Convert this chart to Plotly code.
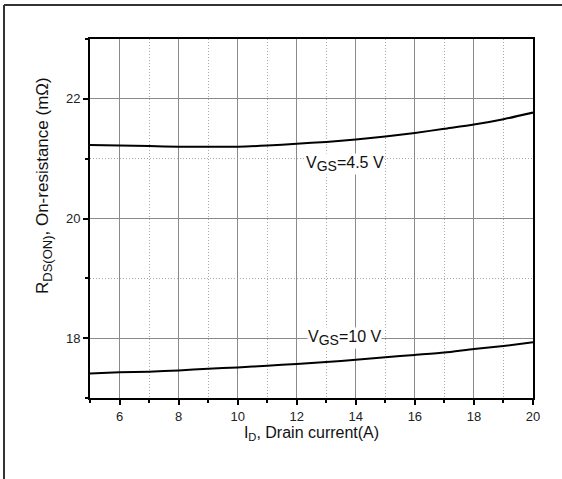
import plotly.graph_objects as go

# Data
id_current = [5, 6, 7, 8, 9, 10, 11, 12, 13, 14, 15, 16, 17, 18, 19, 20]
r_vgs45 = [21.23, 21.22, 21.21, 21.20, 21.20, 21.20, 21.22, 21.25, 21.28, 21.32,
           21.37, 21.43, 21.50, 21.57, 21.66, 21.77]
r_vgs10 = [17.41, 17.43, 17.44, 17.46, 17.49, 17.51, 17.54, 17.57, 17.60, 17.64,
           17.68, 17.72, 17.76, 17.82, 17.87, 17.93]
label_45 = "V<sub><span style='font-size:14px'>GS</span></sub>=4.5 V"
label_10 = "V<sub><span style='font-size:14px'>GS</span></sub>=10 V"
x_title = "I<sub>D</sub>, Drain current(A)"
y_title = "R<sub><span style='font-size:13px'>DS(ON)</span></sub>, On-resistance (mΩ)"

W, H = 562, 479
L, R, T, B = 90, 29, 39, 81

FONT = "Liberation Sans, Arial, sans-serif"

fig = go.Figure()
for ys in (r_vgs45, r_vgs10):
    fig.add_trace(go.Scatter(x=id_current, y=ys, mode="lines",
                             line=dict(color="black", width=2, shape="spline", smoothing=0.6),
                             showlegend=False, hoverinfo="skip"))

axis_common = dict(
    showline=True, linecolor="black", linewidth=2, mirror=True,
    ticks="outside", ticklen=5, tickwidth=1.5, tickcolor="black",
    showgrid=True, gridcolor="#8a8a8a", gridwidth=1,
    zeroline=False,
    tickfont=dict(family=FONT, size=13, color="#222"),
)
minor_common = dict(dtick=1, tick0=1, ticks="outside", ticklen=3, tickcolor="black",
                    showgrid=True, gridcolor="#a8a8a8", griddash="1px,2px", gridwidth=1)

fig.update_xaxes(range=[5, 20], tick0=0, dtick=2, minor=minor_common,
                 title=dict(text=x_title, font=dict(family=FONT, size=16, color="#111"), standoff=4),
                 **axis_common)
fig.update_yaxes(range=[17, 23], tick0=0, dtick=2, minor=minor_common, **axis_common)

pw, ph = W - L - R, H - T - B
def px(xp):
    return (xp - L) / pw
def py(yp):
    return (H - B - yp) / ph

# y-axis title placed as rotated annotation
fig.add_annotation(xref="paper", yref="paper", x=px(44), y=py(186), text=y_title,
                   textangle=-90, showarrow=False, xanchor="center", yanchor="middle",
                   font=dict(family=FONT, size=17, color="#111"))

fig.add_annotation(x=12.28, y=20.91, text=label_45, showarrow=False, xanchor="left", yanchor="middle",
                   font=dict(family=FONT, size=16, color="#111"), bgcolor="white", borderpad=0)
fig.add_annotation(x=12.34, y=18.0, text=label_10, showarrow=False, xanchor="left", yanchor="middle",
                   font=dict(family=FONT, size=16, color="#111"), bgcolor="white", borderpad=0)

# page frame: top and left border lines
fig.add_shape(type="line", xref="paper", yref="paper", x0=px(4), x1=px(562), y0=py(5), y1=py(5),
              line=dict(color="#333", width=2), layer="above")
fig.add_shape(type="line", xref="paper", yref="paper", x0=px(4), x1=px(4), y0=py(5), y1=py(479),
              line=dict(color="#333", width=2), layer="above")

fig.update_layout(width=W, height=H, margin=dict(l=L, r=R, t=T, b=B),
                  plot_bgcolor="white", paper_bgcolor="white",
                  font=dict(family=FONT))

fig.write_html("out.html")
